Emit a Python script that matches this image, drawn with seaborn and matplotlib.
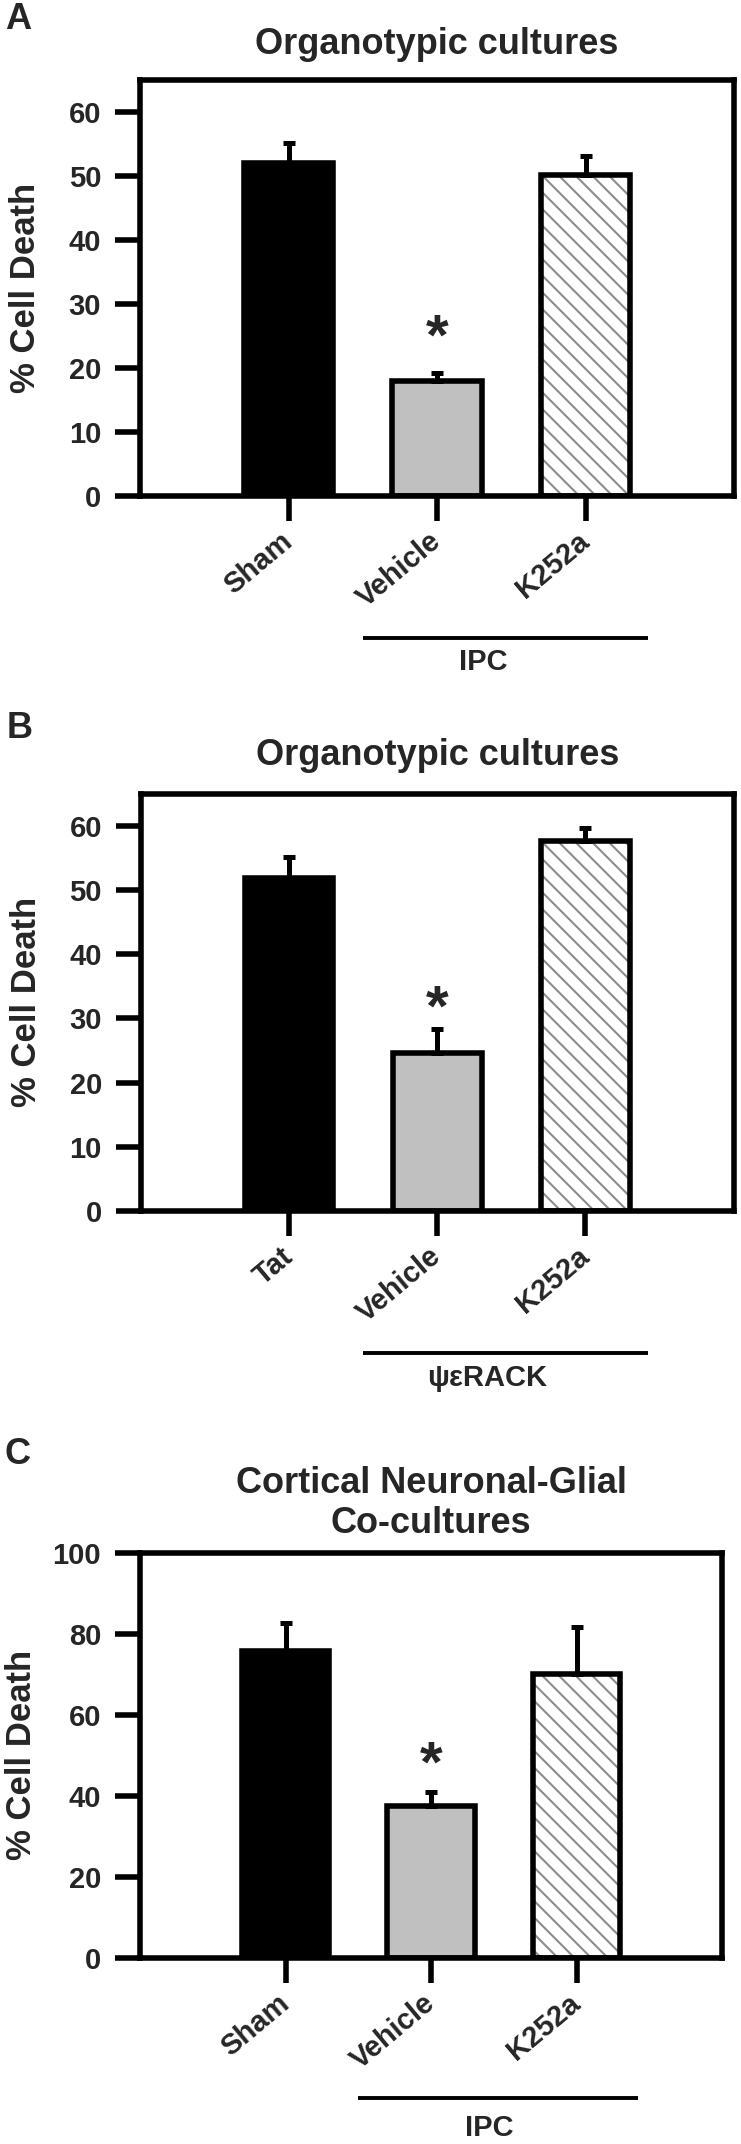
import numpy as np
import matplotlib
matplotlib.use("Agg")
import matplotlib.pyplot as plt
import matplotlib.transforms as mtransforms
from matplotlib.patches import Rectangle
import seaborn as sns

# values: % cell death, mean and upper SEM
groups_a = ["Sham", "Vehicle", "K252a"]
death_a = [52.0, 18.0, 50.2]
sem_a = [3.2, 1.2, 2.9]
star_a = 27.3

groups_b = ["Tat", "Vehicle", "K252a"]
death_b = [51.9, 24.6, 57.7]
sem_b = [3.2, 3.8, 2.0]
star_b = 34.2

groups_c = ["Sham", "Vehicle", "K252a"]
death_c = [75.8, 37.5, 70.1]
sem_c = [6.8, 3.4, 11.5]
star_c = 51.9

yticks_ab = [0, 10, 20, 30, 40, 50, 60]
yticks_c = [0, 20, 40, 60, 80, 100]

BAR_COLORS = ["black", "#c0c0c0", "white"]
HATCH_GRAY = "#8c8c8c"
LW = 4


def draw_panel(fig, rect, letter, letter_xy, title, title_pad, groups, vals, errs,
               star, yticks, ylim, group_label, ylabel_x, bracket_y, text_y, text_dx):
    ax = fig.add_axes(rect)
    palette = dict(zip(groups, BAR_COLORS))
    sns.barplot(x=groups, y=vals, hue=groups, palette=palette, legend=False,
                width=0.6, edgecolor="black", linewidth=LW, errorbar=None,
                saturation=1, ax=ax)

    bars = sorted(ax.patches, key=lambda p: p.get_x())
    xpos = [p.get_x() + p.get_width() / 2 for p in bars]

    # hatched bar: gray hatch, black frame drawn on top
    hb = bars[2]
    hb.set_hatch("\\\\")
    hb.set_edgecolor(HATCH_GRAY)
    hb.set_linewidth(0)
    ax.add_patch(Rectangle(hb.get_xy(), hb.get_width(), hb.get_height(), fill=False,
                           edgecolor="black", lw=LW, zorder=hb.get_zorder() + 0.1))

    ax.errorbar(xpos, vals, yerr=[np.zeros(len(vals)), errs], fmt="none",
                ecolor="black", elinewidth=3.6, capsize=4.3, capthick=3.6, zorder=3)

    ax.annotate("*", xy=(xpos[1], star), xytext=(0, -0.58 * 42), textcoords="offset points",
                ha="center", va="baseline", fontsize=42, fontweight="bold")

    ax.set_xlim(-1, 3)
    ax.set_ylim(*ylim)
    ax.set_yticks(yticks)
    ax.set_xticks(xpos)
    ax.set_xticklabels(groups, rotation=40, ha="right", va="center",
                       rotation_mode="anchor")
    shift = mtransforms.ScaledTranslation(6 / 72, 0, fig.dpi_scale_trans)
    for lab in ax.get_xticklabels():
        lab.set_transform(lab.get_transform() + shift)

    for s in ax.spines.values():
        s.set_visible(True)
        s.set_linewidth(LW)
        s.set_color("black")
    ax.tick_params(axis="both", direction="out", length=18, width=LW,
                   color="black", bottom=True, left=True)
    ax.tick_params(axis="y", pad=10, labelsize=21)
    ax.tick_params(axis="x", pad=12, labelsize=21)

    ax.set_xlabel("")
    ax.set_ylabel("% Cell Death", fontsize=25, fontweight="bold")
    ax.yaxis.set_label_coords(ylabel_x, 0.5)
    ax.set_title(title, fontsize=26, fontweight="bold", pad=title_pad, linespacing=1.2)

    # treatment bracket under the rotated labels
    trans = mtransforms.blended_transform_factory(ax.transData, ax.transAxes)
    ax.plot([xpos[1] - 0.5, xpos[2] + 0.42], [bracket_y, bracket_y], color="black",
            lw=2.8, transform=trans, clip_on=False, solid_capstyle="butt")
    ax.text((xpos[1] + xpos[2]) / 2 - 0.5 + text_dx, text_y, group_label, transform=trans,
            ha="center", va="center", fontsize=21, fontweight="bold")

    fig.text(letter_xy[0], letter_xy[1], letter, ha="center", va="center",
             fontsize=26, fontweight="bold")
    return ax


def main():
    sns.set_theme(style="white")
    plt.rcParams["font.family"] = ["Liberation Sans", "DejaVu Sans"]
    plt.rcParams["font.weight"] = "bold"
    plt.rcParams["hatch.linewidth"] = 1.5

    fig = plt.figure(figsize=(7.41, 21.44), dpi=100)

    draw_panel(fig, [0.189, 0.7687, 0.8016, 0.1940], "A", (0.024, 0.9907),
               "Organotypic cultures", 19, groups_a, death_a, sem_a, star_a,
               yticks_ab, (0, 65), "IPC", -0.165, -0.341, -0.399, 0.31)
    draw_panel(fig, [0.190, 0.4352, 0.800, 0.1945], "B", (0.027, 0.660),
               "Organotypic cultures", 21, groups_b, death_b, sem_b, star_b,
               yticks_ab, (0, 65), "\u03c8\u03b5RACK", -0.165, -0.340, -0.400, 0.34)
    draw_panel(fig, [0.189, 0.0868, 0.7854, 0.1889], "C", (0.023, 0.3214),
               "Cortical Neuronal-Glial\nCo-cultures", 14, groups_c, death_c, sem_c,
               star_c, yticks_c, (0, 100), "IPC", -0.175, -0.346, -0.420, 0.40)

    fig.savefig("out.png", dpi=100, facecolor="white")
    plt.close(fig)


if __name__ == "__main__":
    main()
